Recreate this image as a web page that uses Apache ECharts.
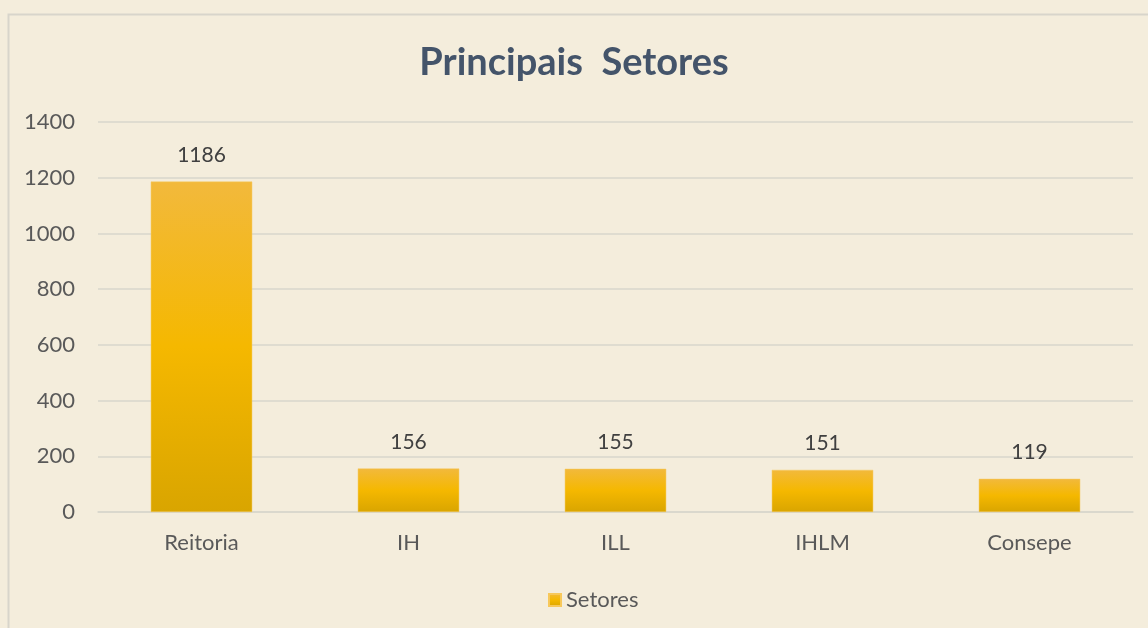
<!DOCTYPE html>
<html lang="pt">
<head>
<meta charset="UTF-8">
<title>Principais Setores</title>
<style>
  html, body { margin: 0; padding: 0; background: #F4EDDC; }
  #main { width: 1148px; height: 628px; }
</style>
<script src="https://cdn.jsdelivr.net/npm/echarts@6/dist/echarts.min.js"></script>
</head>
<body>
<div id="main"></div>
<script>
var setores = ['Reitoria', 'IH', 'ILL', 'IHLM', 'Consepe'];
var quantidades = [1186, 156, 155, 151, 119];
var yTicks = [0, 200, 400, 600, 800, 1000, 1200, 1400];

var chart = echarts.init(document.getElementById('main'));

// Excel-like vertical gradient: lighter top, pure yellow middle, darker base
var barGradient = new echarts.graphic.LinearGradient(0, 0, 0, 1, [
  { offset: 0, color: '#F2B93C' },
  { offset: 0.5, color: '#F5B800' },
  { offset: 1, color: '#D9A500' }
]);

var option = {
  backgroundColor: '#F4EDDC',
  textStyle: { fontFamily: 'Lato' },
  graphic: [{
    type: 'rect',
    shape: { x: 8.5, y: 14.5, width: 1200, height: 700 },
    style: { fill: 'none', stroke: '#D8D5CB', lineWidth: 2 },
    silent: true
  }],
  title: {
    text: 'Principais  Setores',
    left: 'center',
    top: 39,
    textStyle: { color: '#44546A', fontSize: 38, fontWeight: 'bold', fontFamily: 'Lato' }
  },
  legend: {
    data: ['Setores'],
    top: 584,
    left: 543,
    itemWidth: 12,
    itemHeight: 12,
    itemGap: 6,
    icon: 'rect',
    textStyle: { color: '#595959', fontSize: 22, fontFamily: 'Lato' }
  },
  grid: { left: 98, right: 15, top: 122, bottom: 116 },
  xAxis: {
    type: 'category',
    data: setores,
    axisLine: { lineStyle: { color: '#D9D6CC', width: 1.5 } },
    axisTick: { show: false },
    axisLabel: { color: '#595959', fontSize: 22, margin: 20 }
  },
  yAxis: {
    type: 'value',
    min: yTicks[0],
    max: yTicks[yTicks.length - 1],
    interval: 200,
    axisLine: { show: false },
    axisTick: { show: false },
    splitLine: { lineStyle: { color: '#D9D6CC', width: 1.5 } },
    axisLabel: { color: '#595959', fontSize: 22, margin: 23, formatter: function (v) { return String(v); } }
  },
  series: [{
    name: 'Setores',
    type: 'bar',
    data: quantidades,
    barWidth: '49%',
    itemStyle: { color: barGradient, borderColor: '#F7C85A', borderWidth: 0.5 },
    label: {
      show: true,
      position: 'top',
      distance: 16,
      color: '#404040',
      fontSize: 21,
      fontFamily: 'Lato'
    }
  }]
};

chart.setOption(option);
</script>
</body>
</html>
